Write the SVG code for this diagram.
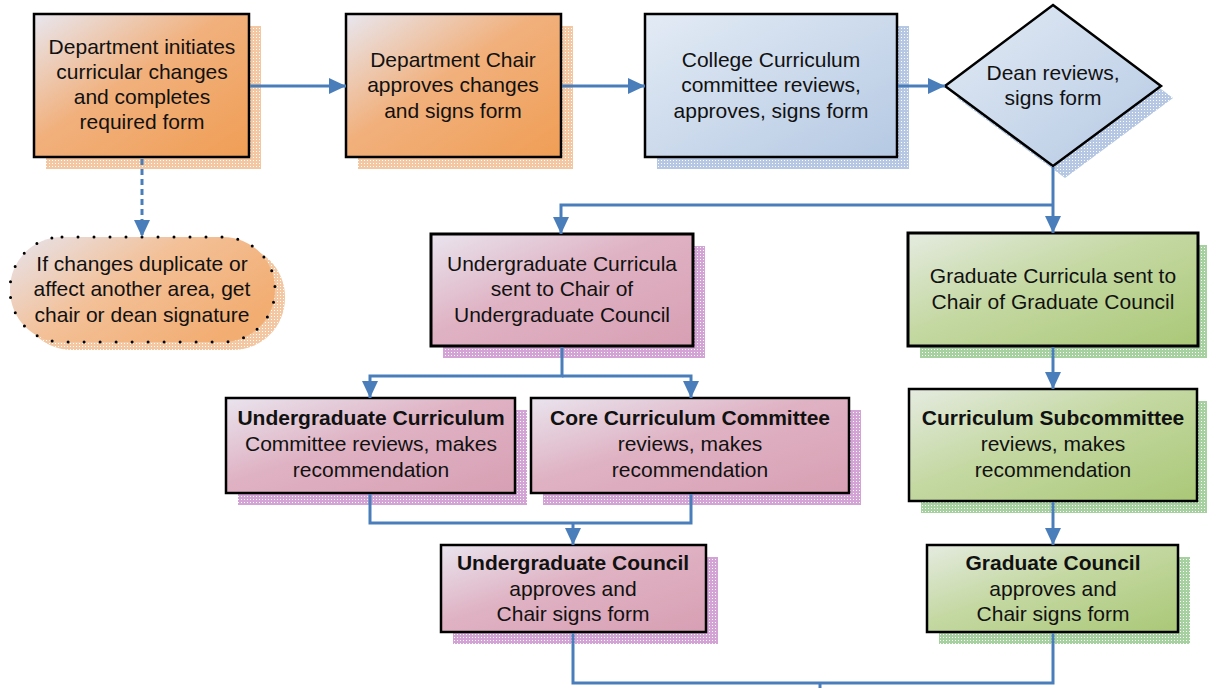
<svg xmlns="http://www.w3.org/2000/svg" width="1207" height="688" viewBox="0 0 1207 688">
<style>
text{font-family:"Liberation Sans",Arial,sans-serif;font-size:21px;fill:#111;text-anchor:middle}
.b{font-weight:bold}
.n{stroke:#000;stroke-width:2.5}
.nt{stroke:#000;stroke-width:3}
.c{fill:none;stroke:#4a7ebb;stroke-width:3}
</style>
<defs>
<linearGradient id="gO" x1="0" y1="0" x2="1" y2="1"><stop offset="0" stop-color="#e8e7f0"/><stop offset="0.45" stop-color="#f1b07c"/><stop offset="1" stop-color="#f09e55"/></linearGradient>
<linearGradient id="gO2" x1="0" y1="0" x2="1" y2="0.6"><stop offset="0" stop-color="#e6e4ee"/><stop offset="0.5" stop-color="#f3c097"/><stop offset="1" stop-color="#f2ad72"/></linearGradient>
<linearGradient id="gB" x1="0" y1="0" x2="1" y2="1"><stop offset="0" stop-color="#e3ebf5"/><stop offset="0.5" stop-color="#ccdaec"/><stop offset="1" stop-color="#b5c9e3"/></linearGradient>
<linearGradient id="gP" x1="0" y1="0" x2="1" y2="1"><stop offset="0" stop-color="#e9e4ee"/><stop offset="0.45" stop-color="#dfb2c3"/><stop offset="1" stop-color="#d89fb3"/></linearGradient>
<linearGradient id="gG" x1="0" y1="0" x2="1" y2="1"><stop offset="0" stop-color="#e5ebe0"/><stop offset="0.45" stop-color="#c4d8a2"/><stop offset="1" stop-color="#aac877"/></linearGradient>
<pattern id="sO" width="3" height="3" patternUnits="userSpaceOnUse"><rect width="3" height="3" fill="#f2c7a2"/><rect x="1" y="1" width="1" height="1" fill="#fff"/></pattern>
<pattern id="sB" width="3" height="3" patternUnits="userSpaceOnUse"><rect width="3" height="3" fill="#b5c7e2"/><rect x="1" y="1" width="1" height="1" fill="#fff"/></pattern>
<pattern id="sP" width="3" height="3" patternUnits="userSpaceOnUse"><rect width="3" height="3" fill="#d3a3d6"/><rect x="1" y="1" width="1" height="1" fill="#fff"/></pattern>
<pattern id="sG" width="3" height="3" patternUnits="userSpaceOnUse"><rect width="3" height="3" fill="#a6d0a0"/><rect x="1" y="1" width="1" height="1" fill="#fff"/></pattern>
<marker id="ah" markerUnits="userSpaceOnUse" markerWidth="17" markerHeight="16" refX="17" refY="8" orient="auto"><path d="M0,0 L17,8 L0,16 z" fill="#4a7ebb"/></marker>
</defs>

<g id="n1">
<rect x="46" y="26" width="215" height="143" fill="url(#sO)"/>
<rect class="n" x="34" y="14" width="215" height="143" fill="url(#gO)"/>
<text x="142" y="54">Department initiates</text>
<text x="142" y="79">curricular changes</text>
<text x="142" y="104">and completes</text>
<text x="142" y="129">required form</text>
</g>

<g id="n2">
<rect x="358" y="26" width="215" height="143" fill="url(#sO)"/>
<rect class="n" x="346" y="14" width="215" height="143" fill="url(#gO)"/>
<text x="453" y="67">Department Chair</text>
<text x="453" y="92">approves changes</text>
<text x="453" y="118">and signs form</text>
</g>

<g id="n3">
<rect x="657" y="26" width="252" height="143" fill="url(#sB)"/>
<rect class="n" x="645" y="14" width="252" height="143" fill="url(#gB)"/>
<text x="771" y="67">College Curriculum</text>
<text x="771" y="92">committee reviews,</text>
<text x="771" y="118">approves, signs form</text>
</g>

<g id="dean">
<path d="M1065,17 L1173,98 L1065,178 L957,98 z" fill="url(#sB)"/>
<path class="n" d="M1053,5 L1161,86 L1053,166 L945,86 z" fill="url(#gB)" stroke-width="2"/>
<text x="1053" y="80">Dean reviews,</text>
<text x="1053" y="105">signs form</text>
</g>

<g id="note">
<rect x="20" y="245" width="265" height="105" rx="52" fill="url(#sO)"/>
<rect x="10" y="237" width="265" height="105" rx="52" fill="url(#gO2)" stroke="#000" stroke-width="3" stroke-linecap="round" stroke-dasharray="0 16"/>
<text x="142" y="271">If changes duplicate or</text>
<text x="142" y="296">affect another area, get</text>
<text x="142" y="322">chair or dean signature</text>
</g>

<g id="ug">
<rect x="443" y="246" width="262" height="112" fill="url(#sP)"/>
<rect class="nt" x="431" y="234" width="262" height="112" fill="url(#gP)"/>
<text x="562" y="271">Undergraduate Curricula</text>
<text x="562" y="296">sent to Chair of</text>
<text x="562" y="322">Undergraduate Council</text>
</g>

<g id="g">
<rect x="920" y="245" width="290" height="113" fill="url(#sG)"/>
<rect class="nt" x="908" y="233" width="290" height="113" fill="url(#gG)"/>
<text x="1053" y="283">Graduate Curricula sent to</text>
<text x="1053" y="309">Chair of Graduate Council</text>
</g>

<g id="ucc">
<rect x="238" y="410" width="289" height="95" fill="url(#sP)"/>
<rect class="n" x="226" y="398" width="289" height="95" fill="url(#gP)" stroke-width="2"/>
<text class="b" x="371" y="425">Undergraduate Curriculum</text>
<text x="371" y="451">Committee reviews, makes</text>
<text x="371" y="477">recommendation</text>
</g>

<g id="core">
<rect x="543" y="410" width="318" height="95" fill="url(#sP)"/>
<rect class="n" x="531" y="398" width="318" height="95" fill="url(#gP)" stroke-width="2"/>
<text class="b" x="690" y="425">Core Curriculum Committee</text>
<text x="690" y="451">reviews, makes</text>
<text x="690" y="477">recommendation</text>
</g>

<g id="cs">
<rect x="921" y="401" width="288" height="112" fill="url(#sG)"/>
<rect class="n" x="909" y="389" width="288" height="112" fill="url(#gG)" stroke-width="2"/>
<text class="b" x="1053" y="425">Curriculum Subcommittee</text>
<text x="1053" y="451">reviews, makes</text>
<text x="1053" y="477">recommendation</text>
</g>

<g id="ucouncil">
<rect x="453" y="557" width="265" height="87" fill="url(#sP)"/>
<rect class="n" x="441" y="545" width="265" height="87" fill="url(#gP)" stroke-width="2"/>
<text class="b" x="573" y="570">Undergraduate Council</text>
<text x="573" y="596">approves and</text>
<text x="573" y="621">Chair signs form</text>
</g>

<g id="gcouncil">
<rect x="939" y="557" width="251" height="87" fill="url(#sG)"/>
<rect class="n" x="927" y="545" width="251" height="87" fill="url(#gG)" stroke-width="2"/>
<text class="b" x="1053" y="570">Graduate Council</text>
<text x="1053" y="596">approves and</text>
<text x="1053" y="621">Chair signs form</text>
</g>

<g id="connectors">
<path class="c" d="M250,86 H346" marker-end="url(#ah)"/>
<path class="c" d="M562,86 H645" marker-end="url(#ah)"/>
<path class="c" d="M898,86 H945" marker-end="url(#ah)"/>
<path class="c" d="M142,159 V237" stroke-dasharray="6 4" marker-end="url(#ah)"/>
<path class="c" d="M1053,167 V233" marker-end="url(#ah)"/>
<path class="c" d="M1053,205 H561 V234" marker-end="url(#ah)"/>
<path class="c" d="M562,347 V376 H370 V398" marker-end="url(#ah)"/>
<path class="c" d="M562,376 H691 V398" marker-end="url(#ah)"/>
<path class="c" d="M370,494 V523 H691 V494"/>
<path class="c" d="M573,523 V545" marker-end="url(#ah)"/>
<path class="c" d="M1053,347 V389" marker-end="url(#ah)"/>
<path class="c" d="M1053,502 V545" marker-end="url(#ah)"/>
<path class="c" d="M573,633 V683 H1053 V633"/>
<path class="c" d="M820,683 V690"/>
</g>
</svg>
